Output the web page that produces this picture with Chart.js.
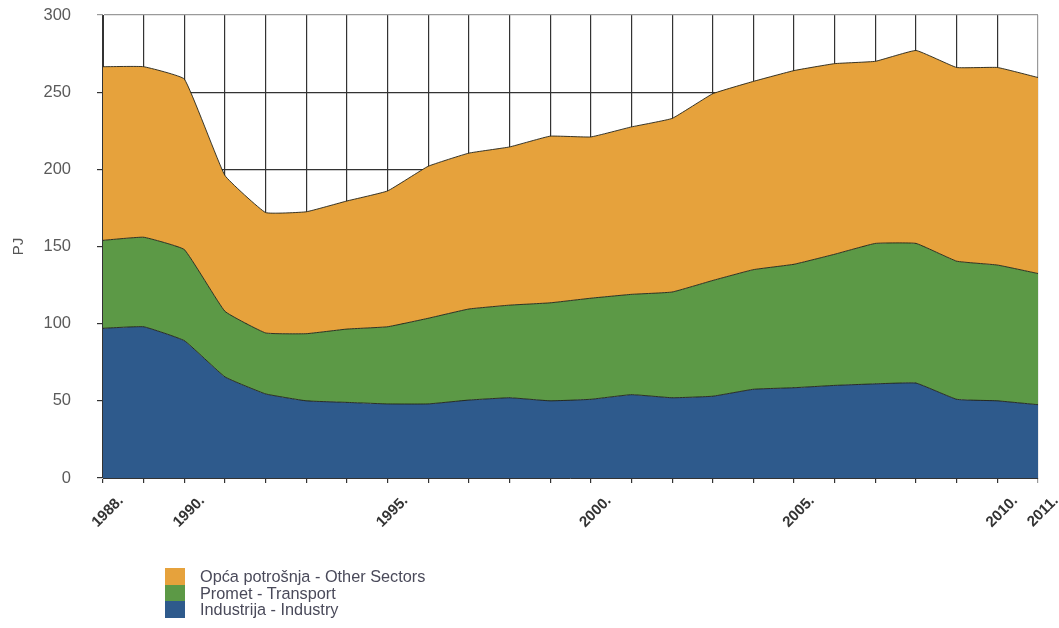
<!DOCTYPE html>
<html>
<head>
<meta charset="utf-8">
<script src="https://cdn.jsdelivr.net/npm/chart.js@4.4.0/dist/chart.umd.min.js"></script>
<style>
  html, body { margin: 0; padding: 0; background: #fff; }
  #wrap { position: relative; width: 1059px; height: 628px; }
  #legend { position: absolute; left: 165px; top: 568px; font-family: "Liberation Sans", Arial, sans-serif; font-size: 16.3px; color: #4a4a5a; }
  #legend div { height: 16.5px; line-height: 16.5px; display: flex; align-items: center; }
  #legend span.box { display: inline-block; width: 20px; height: 16.5px; margin-right: 15px; }
</style>
</head>
<body>
<div id="wrap">
  <canvas id="energyChart"></canvas>
  <div id="legend"></div>
</div>
<script>
// years on the category axis
const years = ["1988","1989","1990","1991","1992","1993","1994","1995","1996","1997","1998","1999",
               "2000","2001","2002","2003","2004","2005","2006","2007","2008","2009","2010","2011"];
// only these years get a label under the axis
const shownYears = ["1988","1990","1995","2000","2005","2010","2011"];

// PJ
const industry  = [97, 98, 89, 65.5, 54.5, 50, 49, 48, 48, 50.5, 52, 50, 51, 54, 52, 53, 57.5, 58.5, 60, 61, 61.5, 51, 50, 47.5];
const transport = [57, 58, 59, 42.5, 39.5, 43.5, 47.5, 50, 55.5, 59, 60, 63.5, 65.5, 65, 68.5, 75, 77.5, 80, 85, 91, 90.5, 89.5, 88, 85];
const other     = [112.5, 110.5, 110.5, 88, 78, 79, 83, 88, 98.5, 101, 102.5, 108, 104.5, 108.5, 112.5, 121, 122, 125.5, 123.5, 118, 125, 125.5, 128, 127];

const yTicks = { min: 0, max: 300, step: 50 };

const seriesNames = ["Industrija - Industry", "Promet - Transport", "Opća potrošnja - Other Sectors"];
const seriesColors = ["#2e5a8c", "#5c9946", "#e6a23c"];

const outline = "rgba(35,35,25,0.9)";

const ctx = document.getElementById("energyChart").getContext("2d");
new Chart(ctx, {
    type: "line",
    data: {
        labels: years,
        datasets: [
            { label: seriesNames[0], data: industry,  backgroundColor: seriesColors[0], fill: "origin" },
            { label: seriesNames[1], data: transport, backgroundColor: seriesColors[1], fill: "-1" },
            { label: seriesNames[2], data: other,     backgroundColor: seriesColors[2], fill: "-1" }
        ].map(d => Object.assign(d, { borderColor: outline, borderWidth: 1, pointRadius: 0, tension: 0.1 }))
    },
    options: {
        responsive: true,
        maintainAspectRatio: false,
        animation: false,
        layout: { padding: { left: 0, right: 21, top: 15, bottom: 80 } },
        plugins: { legend: { display: false }, tooltip: { enabled: false } },
        scales: {
            x: {
                offset: false,
                afterFit: s => { s.height = 70; s.paddingLeft = 0; s.paddingRight = 0; },
                grid: {
                    color: c => (c.index === years.length - 1 ? "#9a9a9a" : "#333"),
                    lineWidth: 1.2,
                    tickLength: 5
                },
                border: { color: "#333" },
                ticks: {
                    autoSkip: false,
                    maxRotation: 45,
                    minRotation: 45,
                    padding: 9,
                    labelOffset: 18,
                    color: "#333",
                    font: { family: "Liberation Sans", size: 15, weight: "bold" },
                    callback: function (val, i) {
                        const y = years[i];
                        return shownYears.includes(y) ? y + "." : "";
                    }
                }
            },
            y: {
                stacked: true,
                min: yTicks.min,
                max: yTicks.max,
                afterFit: s => { s.width = 103; s.paddingTop = 0; s.paddingBottom = 0; },
                grid: {
                    color: c => (c.tick && c.tick.value === yTicks.max ? "#9a9a9a" : "#333"),
                    lineWidth: 1.2,
                    tickLength: 6
                },
                border: { color: "#333" },
                title: {
                    display: true,
                    text: "PJ",
                    color: "#555",
                    padding: { top: 10, bottom: 0 },
                    font: { family: "Liberation Sans", size: 15 }
                },
                ticks: {
                    stepSize: yTicks.step,
                    padding: 26,
                    color: "#5a5a5a",
                    font: { family: "Liberation Sans", size: 16.5 }
                }
            }
        }
    }
});

// legend, top row is the upper area
const legendEl = document.getElementById("legend");
for (let i = seriesNames.length - 1; i >= 0; i--) {
    const row = document.createElement("div");
    row.innerHTML = '<span class="box" style="background:' + seriesColors[i] + '"></span>' + seriesNames[i];
    legendEl.appendChild(row);
}
</script>
</body>
</html>
